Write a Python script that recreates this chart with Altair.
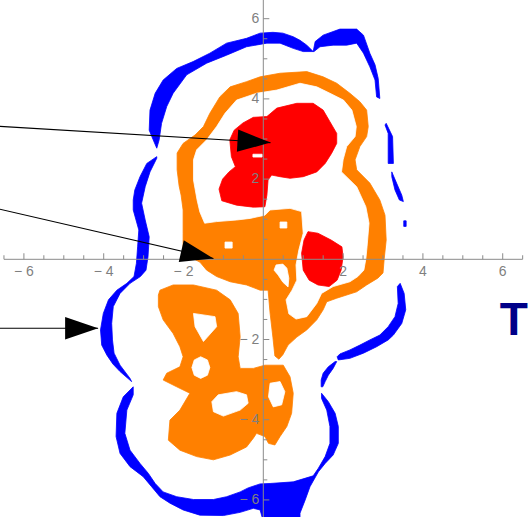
import altair as alt
import pandas as pd

# Plot range (x and y in plot units)
X_DOMAIN = [-6.599, 6.684]
Y_DOMAIN = [-6.426, 6.466]

# ---- region outlines, (x, y) vertices -------------------------------------
blue_regions = {
    "top_arc": [(-2.67, 2.77), (-2.76, 2.98), (-2.86, 3.22), (-2.84, 3.72), (-2.71, 4.14),
                (-2.51, 4.47), (-2.17, 4.76), (-1.76, 4.93), (-1.34, 5.14), (-0.92, 5.39),
                (-0.42, 5.51), (-0.08, 5.64), (0.24, 5.66), (0.49, 5.64), (0.75, 5.55),
                (0.92, 5.46), (1.09, 5.34), (1.25, 5.18), (1.00, 5.18), (0.75, 5.26),
                (0.42, 5.39), (0.09, 5.39), (-0.42, 5.30), (-0.92, 5.09), (-1.42, 4.89),
                (-1.92, 4.60), (-2.26, 4.14), (-2.42, 3.81), (-2.55, 3.39), (-2.61, 2.98)],
    "top_right": [(1.25, 5.18), (1.30, 5.43), (1.50, 5.59), (1.92, 5.74), (2.34, 5.74),
                  (2.51, 5.59), (2.67, 5.14), (2.80, 4.85), (2.88, 4.51), (2.92, 4.01),
                  (2.84, 4.05), (2.80, 4.47), (2.67, 4.80), (2.51, 5.14), (2.34, 5.39),
                  (2.09, 5.34), (1.75, 5.34), (1.42, 5.30), (1.27, 5.18)],
    "right_1": [(3.08, 3.39), (3.24, 3.06), (3.26, 2.39), (3.13, 2.39), (3.13, 3.14), (3.05, 3.35)],
    "right_2": [(3.22, 2.18), (3.34, 1.90), (3.47, 1.60), (3.51, 1.44), (3.41, 1.48),
                (3.30, 1.73), (3.22, 2.06)],
    "right_dot": [(3.52, 0.96), (3.58, 0.96), (3.58, 0.82), (3.52, 0.82)],
    "right_3": [(3.43, -0.60), (3.53, -0.85), (3.57, -1.26), (3.47, -1.60), (3.26, -1.89),
                (3.13, -2.01), (2.84, -2.18), (2.51, -2.34), (2.17, -2.47), (1.88, -2.51),
                (1.85, -2.43), (1.92, -2.36), (2.17, -2.26), (2.42, -2.14), (2.67, -2.01),
                (2.92, -1.89), (3.13, -1.68), (3.30, -1.43), (3.38, -1.10), (3.36, -0.68)],
    "right_4": [(1.80, -2.55), (1.63, -2.68), (1.50, -2.84), (1.45, -3.01), (1.45, -3.18),
                (1.49, -3.18), (1.55, -3.05), (1.63, -2.89), (1.75, -2.72), (1.84, -2.55)],
    "left": [(-2.67, 2.56), (-2.92, 2.39), (-3.09, 2.06), (-3.22, 1.73), (-3.26, 1.48),
             (-3.26, 1.23), (-3.12, 0.73), (-3.15, 0.31), (-3.18, -0.10), (-3.24, -0.43),
             (-3.42, -0.60), (-3.67, -0.77), (-3.88, -1.01), (-4.01, -1.35), (-4.08, -1.76),
             (-4.05, -2.14), (-3.92, -2.39), (-3.77, -2.61), (-3.59, -2.80), (-3.30, -3.05),
             (-3.34, -2.97), (-3.59, -2.64), (-3.74, -2.34), (-3.78, -2.01), (-3.80, -1.60),
             (-3.76, -1.18), (-3.59, -0.85), (-3.34, -0.60), (-3.08, -0.43), (-2.94, -0.27),
             (-2.89, 0.06), (-2.86, 0.56), (-2.96, 0.98), (-3.05, 1.40), (-2.96, 1.81),
             (-2.84, 2.18), (-2.67, 2.52)],
    "bottom": [(-3.26, -3.18), (-3.51, -3.43), (-3.67, -3.84), (-3.69, -4.42), (-3.59, -4.84),
               (-3.34, -5.17), (-3.01, -5.42), (-2.80, -5.67), (-2.59, -5.92), (-2.34, -6.08),
               (-2.01, -6.25), (-1.59, -6.38), (-1.00, -6.39), (-0.58, -6.31), (-0.25, -6.21),
               (-0.08, -6.25), (-0.01, -6.50), (-0.01, -6.80), (0.92, -6.80), (0.92, -6.33),
               (1.05, -6.00), (1.17, -5.67), (1.38, -5.30), (1.55, -5.09), (1.75, -4.88),
               (1.88, -4.59), (1.88, -4.17), (1.80, -3.84), (1.63, -3.55), (1.46, -3.34),
               (1.46, -3.47), (1.59, -3.76), (1.67, -4.17), (1.67, -4.59), (1.55, -4.92),
               (1.38, -5.21), (1.25, -5.40), (0.75, -5.55), (0.17, -5.59), (-0.08, -5.60),
               (-0.38, -5.70), (-0.58, -5.80), (-0.92, -5.92), (-1.25, -5.99), (-1.75, -5.99),
               (-2.17, -5.92), (-2.51, -5.80), (-2.71, -5.59), (-2.88, -5.34), (-3.09, -5.09),
               (-3.34, -4.76), (-3.47, -4.34), (-3.42, -3.76), (-3.26, -3.38)],
}

orange_regions = {
    "ring_and_core": [(-2.01, 0.23), (-2.01, 0.65), (-2.01, 1.23), (-2.06, 1.60), (-2.11, 1.83),
                      (-2.16, 2.23), (-2.16, 2.65), (-2.01, 2.89), (-1.71, 3.10), (-1.50, 3.31),
                      (-1.34, 3.64), (-1.09, 4.05), (-0.83, 4.30), (-0.42, 4.43), (-0.08, 4.55),
                      (0.42, 4.64), (1.09, 4.68), (1.50, 4.55), (1.84, 4.39), (2.17, 4.14),
                      (2.42, 3.93), (2.59, 3.72), (2.63, 3.31), (2.59, 3.06), (2.42, 2.81),
                      (2.30, 2.48), (2.34, 2.23), (2.67, 1.90), (2.92, 1.48), (3.05, 1.10),
                      (3.08, 0.48), (3.03, 0.01), (3.00, -0.34), (2.87, -0.47), (2.59, -0.64),
                      (2.34, -0.81), (1.84, -0.97), (1.59, -1.06), (1.50, -1.26), (1.34, -1.51),
                      (1.09, -1.76), (0.84, -1.94), (0.62, -2.14), (0.49, -2.38), (0.39, -2.49),
                      (0.29, -2.41), (0.24, -1.94), (0.17, -1.34), (0.12, -0.77), (-0.08, -0.77),
                      (-0.42, -0.64), (-0.83, -0.56), (-1.17, -0.43), (-1.42, -0.27),
                      (-1.59, -0.07), (-1.84, 0.06)],
    "lower": [(-2.63, -0.89), (-2.59, -0.77), (-2.26, -0.64), (-1.75, -0.64), (-1.17, -0.77),
              (-0.83, -1.01), (-0.63, -1.35), (-0.58, -1.93), (-0.63, -2.43), (-0.58, -2.72),
              (-0.25, -2.72), (0.04, -2.64), (0.50, -2.64), (0.67, -2.93), (0.75, -3.34),
              (0.71, -3.84), (0.59, -4.17), (0.42, -4.42), (0.29, -4.63), (0.13, -4.59),
              (0.04, -4.42), (-0.17, -4.34), (-0.25, -4.46), (-0.42, -4.68), (-0.83, -4.88),
              (-1.25, -5.00), (-1.67, -4.92), (-2.09, -4.76), (-2.38, -4.51), (-2.34, -4.01),
              (-2.09, -3.76), (-1.84, -3.34), (-2.17, -3.18), (-2.51, -3.01), (-2.42, -2.84),
              (-2.09, -2.68), (-2.01, -2.43), (-2.09, -2.18), (-2.26, -1.85), (-2.51, -1.51),
              (-2.63, -1.18)],
}

# gaps inside the orange band and holes in the orange blobs
white_regions = {
    "inner": [(-1.59, 1.18), (-1.66, 1.48), (-1.75, 1.98), (-1.75, 2.48), (-1.67, 2.73),
              (-1.42, 2.98), (-1.17, 3.31), (-0.96, 3.64), (-0.67, 3.97), (-0.17, 4.14),
              (0.34, 4.22), (0.92, 4.39), (1.34, 4.30), (1.67, 4.14), (2.01, 3.97),
              (2.22, 3.72), (2.33, 3.31), (2.30, 3.06), (2.09, 2.81), (2.00, 2.48),
              (1.96, 2.18), (2.34, 1.81), (2.57, 1.31), (2.65, 0.90), (2.60, 0.31),
              (2.57, 0.01), (2.52, -0.27), (2.37, -0.43), (2.17, -0.56), (1.75, -0.68),
              (1.46, -0.85), (1.34, -1.10), (1.09, -1.43), (0.82, -1.49), (0.64, -1.36),
              (0.57, -1.01), (0.72, -0.77), (0.84, -0.52), (0.82, -0.14), (0.89, 0.23),
              (1.00, 0.65), (0.96, 1.19), (0.67, 1.27), (0.17, 1.23), (0.04, 1.10),
              (-0.33, 1.02), (-0.67, 0.98), (-1.17, 0.94), (-1.47, 0.90)],
    "core_dot_left": [(-0.96, 0.43), (-0.78, 0.43), (-0.78, 0.28), (-0.96, 0.28)],
    "core_dot_right": [(0.42, 0.93), (0.59, 0.93), (0.59, 0.78), (0.42, 0.78)],
    "core_hook": [(0.32, -0.14), (0.49, -0.12), (0.59, -0.22), (0.64, -0.47), (0.62, -0.69),
                  (0.49, -0.57), (0.37, -0.39), (0.27, -0.27)],
    "lower_tri": [(-1.75, -1.35), (-1.21, -1.43), (-1.17, -1.68), (-1.50, -2.05), (-1.71, -1.68)],
    "lower_round": [(-1.57, -2.43), (-1.40, -2.51), (-1.34, -2.70), (-1.40, -2.89),
                    (-1.57, -2.97), (-1.73, -2.89), (-1.79, -2.70), (-1.73, -2.51)],
    "lower_bean": [(-1.29, -3.55), (-1.13, -3.38), (-0.67, -3.30), (-0.42, -3.38),
                   (-0.38, -3.59), (-0.58, -3.76), (-1.00, -3.91), (-1.25, -3.80)],
    "lower_oval": [(0.17, -3.09), (0.42, -3.05), (0.54, -3.30), (0.46, -3.63), (0.25, -3.68),
                   (0.13, -3.43)],
}

red_regions = {
    "upper": [(0.09, 3.56), (0.34, 3.77), (0.84, 3.89), (1.25, 3.89), (1.50, 3.72), (1.67, 3.43),
              (1.84, 3.14), (1.84, 2.89), (1.71, 2.64), (1.55, 2.39), (1.34, 2.18), (1.00, 2.06),
              (0.67, 2.02), (0.42, 2.06), (0.21, 2.10), (0.12, 1.98), (0.09, 1.60), (0.04, 1.31),
              (-0.25, 1.30), (-0.67, 1.35), (-1.04, 1.46), (-1.11, 1.75), (-1.02, 2.00),
              (-0.86, 2.18), (-0.70, 2.31), (-0.80, 2.56), (-0.84, 2.98), (-0.73, 3.22),
              (-0.51, 3.40), (-0.25, 3.54)],
    "right": [(1.12, 0.69), (1.37, 0.65), (1.70, 0.48), (1.97, 0.31), (2.00, 0.06), (1.95, -0.27),
              (1.85, -0.52), (1.65, -0.68), (1.37, -0.64), (1.15, -0.52), (1.00, -0.27),
              (0.96, 0.15), (1.02, 0.48)],
}

red_holes = {
    "slot": [(-0.26, 2.62), (-0.03, 2.62), (-0.03, 2.55), (-0.26, 2.55)],
}

# arrows: tail and head points, head direction (degrees clockwise on screen)
arrow_x0 = [-6.70, -6.70, -6.70]
arrow_y0 = [3.32, 1.27, -1.72]
arrow_x1 = [0.18, -1.25, -4.14]
arrow_y1 = [2.91, 0.02, -1.72]
arrow_heading = [3.4, 13.0, 0.0]

# axes
axis_extent = [-6.5, 6.5]
tick_positions = [k / 2 for k in range(-13, 14) if k != 0]
major_ticks = [-6, -4, -2, 2, 4, 6]
x_label_values = [-6, -4, -2, 2, 4, 6]
y_label_values = [-6, -4, -2, 2, 4, 6]

AXIS_GREY = "#8a8a8a"
LABEL_GREY = "#7f7f7f"
FONT = "Liberation Sans"

xs = alt.Scale(domain=X_DOMAIN, nice=False, zero=False)
ys = alt.Scale(domain=Y_DOMAIN, nice=False, zero=False)


def xq(field="x"):
    return alt.X(f"{field}:Q", scale=xs, axis=None)


def yq(field="y"):
    return alt.Y(f"{field}:Q", scale=ys, axis=None)


def region_layer(regions, colour):
    rows = []
    for name, pts in regions.items():
        for i, (x, y) in enumerate(pts + pts[:1]):
            rows.append({"region": name, "i": i, "x": x, "y": y})
    return alt.Chart(pd.DataFrame(rows)).mark_line(
        fill=colour, stroke=colour, strokeWidth=0.8, clip=True
    ).encode(x=xq(), y=yq(), detail="region:N", order="i:Q")


def label_text(v):
    return f"\u2212 {abs(v)}" if v < 0 else str(v)


layers = [
    region_layer(blue_regions, "#0000ff"),
    region_layer(orange_regions, "#ff8000"),
    region_layer(white_regions, "#ffffff"),
    region_layer(red_regions, "#ff0000"),
    region_layer(red_holes, "#ffffff"),
]

# axis lines through the origin
axis_df = pd.DataFrame({
    "x": [axis_extent[0], 0.0], "x2": [axis_extent[1], 0.0],
    "y": [0.0, axis_extent[0]], "y2": [0.0, axis_extent[1]],
})
layers.append(
    alt.Chart(axis_df).mark_rule(color=AXIS_GREY, strokeWidth=1, clip=True).encode(
        x=xq(), x2="x2:Q", y=yq(), y2="y2:Q"
    )
)

# ticks: x ticks point up, y ticks point right
for major in (True, False):
    vals = [t for t in tick_positions if (t in major_ticks) == major]
    length = 6 if major else 4
    tdf = pd.DataFrame({"t": vals, "zero": [0.0] * len(vals)})
    layers.append(
        alt.Chart(tdf).mark_tick(orient="vertical", size=length, thickness=1,
                                 yOffset=-length / 2, color=AXIS_GREY, opacity=1).encode(
            x=xq("t"), y=yq("zero"))
    )
    layers.append(
        alt.Chart(tdf).mark_tick(orient="horizontal", size=length, thickness=1,
                                 xOffset=length / 2, color=AXIS_GREY, opacity=1).encode(
            x=xq("zero"), y=yq("t"))
    )

xl = pd.DataFrame({"v": x_label_values, "zero": [0.0] * len(x_label_values),
                   "txt": [label_text(v) for v in x_label_values]})
yl = pd.DataFrame({"v": y_label_values, "zero": [0.0] * len(y_label_values),
                   "txt": [label_text(v) for v in y_label_values]})
layers.append(
    alt.Chart(xl).mark_text(font=FONT, fontSize=14, color=LABEL_GREY, baseline="middle",
                            align="center", dy=13).encode(x=xq("v"), y=yq("zero"), text="txt:N")
)
layers.append(
    alt.Chart(yl).mark_text(font=FONT, fontSize=14, color=LABEL_GREY, baseline="middle",
                            align="right", dx=-4).encode(x=xq("zero"), y=yq("v"), text="txt:N")
)

# arrows
arrows = pd.DataFrame({"x": arrow_x0, "y": arrow_y0, "x2": arrow_x1, "y2": arrow_y1,
                       "heading": arrow_heading})
layers.append(
    alt.Chart(arrows).mark_rule(color="black", strokeWidth=1.1, clip=True).encode(
        x=xq(), y=yq(), x2="x2:Q", y2="y2:Q")
)
layers.append(
    alt.Chart(arrows).mark_point(shape="M0,0L-1,-0.34L-1,0.34Z", filled=True, size=4356,
                                 color="black", opacity=1, strokeWidth=0).encode(
        x=xq("x2"), y=yq("y2"), angle=alt.Angle("heading:Q", scale=None))
)

# variable name on the right
tdf = pd.DataFrame({"x": [6.28], "y": [-1.89], "txt": ["T"]})
layers.append(
    alt.Chart(tdf).mark_text(font=FONT, fontSize=46, fontWeight="bold", color="#000088",
                             align="center", baseline="alphabetic").encode(
        x=xq(), y=yq(), text="txt:N")
)

chart = alt.layer(*layers).properties(
    width=530, height=517, padding=0,
    autosize=alt.AutoSizeParams(type="none"),
).configure_view(stroke=None)

chart.save("out.html", embed_options={"renderer": "svg", "actions": False})
